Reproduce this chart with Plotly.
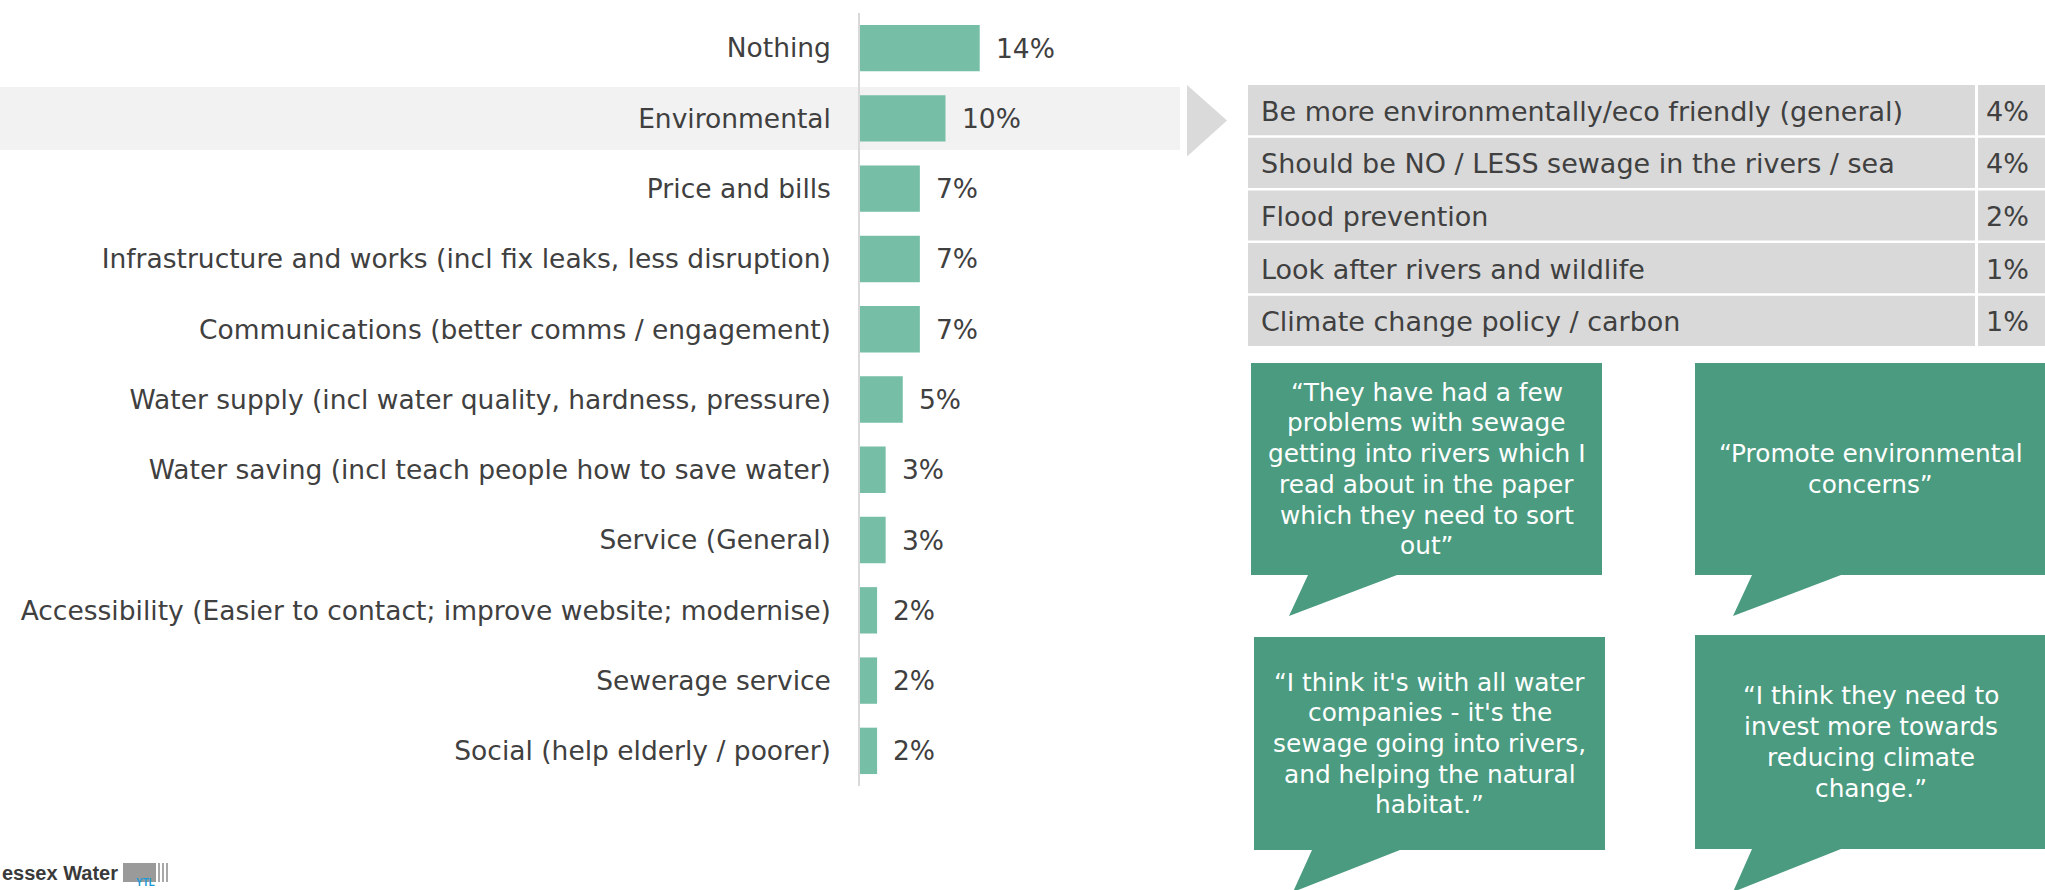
import plotly.graph_objects as go

W, H = 2045, 890
FONT = "DejaVu Sans"
TEXT_COL = "#404040"
BAR_COL = "#76BEA6"
CALLOUT_COL = "#4B9B80"
TABLE_COL = "#D9D9D9"

# Main bar chart data
categories = [
    "Nothing",
    "Environmental",
    "Price and bills",
    "Infrastructure and works (incl fix leaks, less disruption)",
    "Communications (better comms / engagement)",
    "Water supply (incl water quality, hardness, pressure)",
    "Water saving (incl teach people how to save water)",
    "Service (General)",
    "Accessibility (Easier to contact; improve website; modernise)",
    "Sewerage service",
    "Social (help elderly / poorer)",
]
values = [14, 10, 7, 7, 7, 5, 3, 3, 2, 2, 2]
highlight = "Environmental"

# Breakdown of the highlighted category
env_items = [
    "Be more environmentally/eco friendly (general)",
    "Should be NO / LESS sewage in the rivers / sea",
    "Flood prevention",
    "Look after rivers and wildlife",
    "Climate change policy / carbon",
]
env_values = [4, 4, 2, 1, 1]

# Verbatim comments, one list of lines per speech bubble
quotes = [
    ["“They have had a few", "problems with sewage", "getting into rivers which I",
     "read about in the paper", "which they need to sort", "out”"],
    ["“Promote environmental", "concerns”"],
    ["“I think it's with all water", "companies - it's the", "sewage going into rivers,",
     "and helping the natural", "habitat.”"],
    ["“I think they need to", "invest more towards", "reducing climate", "change.”"],
]


def px(x):
    return x / W


def py(y):
    return 1 - y / H


fig = go.Figure()

fig.add_trace(go.Bar(
    x=values, y=categories, orientation="h",
    marker=dict(color=BAR_COL, line=dict(width=0)),
    width=0.66, hoverinfo="skip", showlegend=False,
))

PX_PER_PCT = 8.55
x_left, x_right = 860, 1180
y_top, y_bot = 13, 786

shapes = []
annotations = []

# Highlight band behind the selected row
hi = categories.index(highlight)
shapes.append(dict(type="rect", xref="paper", yref="y",
                   x0=0, x1=px(1180), y0=hi - 0.448, y1=hi + 0.448,
                   fillcolor="#F2F2F2", line=dict(width=0), layer="below"))

# Pointer triangle
shapes.append(dict(type="path", xref="paper", yref="paper",
                   path=f"M {px(1187)},{py(85)} L {px(1227)},{py(120.5)} L {px(1187)},{py(156.5)} Z",
                   fillcolor="#DADADA", line=dict(width=0)))

# Value labels next to bars
for c, v in zip(categories, values):
    annotations.append(dict(x=v, y=c, xref="x", yref="y", text=f"{v}%",
                            showarrow=False, xanchor="left", yanchor="middle",
                            xshift=14, font=dict(family=FONT, size=26.5, color=TEXT_COL)))

# Breakdown table
row_top0, row_pitch, row_h = 85, 52.7, 50.2
for i, (item, v) in enumerate(zip(env_items, env_values)):
    t = row_top0 + i * row_pitch
    shapes.append(dict(type="rect", xref="paper", yref="paper",
                       x0=px(1248), x1=px(1975), y0=py(t + row_h), y1=py(t),
                       fillcolor=TABLE_COL, line=dict(width=0)))
    shapes.append(dict(type="rect", xref="paper", yref="paper",
                       x0=px(1978), x1=px(2046), y0=py(t + row_h), y1=py(t),
                       fillcolor=TABLE_COL, line=dict(width=0)))
    annotations.append(dict(x=px(1259), y=py(t + row_h / 2 + 1), xref="paper", yref="paper",
                            text=item, showarrow=False, xanchor="left", yanchor="middle",
                            font=dict(family=FONT, size=27, color=TEXT_COL)))
    annotations.append(dict(x=px(2031), y=py(t + row_h / 2 + 1), xref="paper", yref="paper",
                            text=f"{v}%", showarrow=False, xanchor="right", yanchor="middle",
                            font=dict(family=FONT, size=27, color=TEXT_COL)))

# Speech bubbles: (left, right, top, bottom, tail base left, tail base right, tip x, tip y)
bubbles = [
    (1251, 1602, 363, 575, 1308, 1397, 1289, 616),
    (1695, 2046, 363, 575, 1752, 1841, 1733, 616),
    (1254, 1605, 637, 850, 1312, 1400, 1293, 892),
    (1695, 2046, 635, 849, 1752, 1841, 1733, 892),
]
line_pitch = 30.7
for (l, r, t, b, tl, tr, tx, ty), lines in zip(bubbles, quotes):
    path = (f"M {px(l)},{py(t)} L {px(r)},{py(t)} L {px(r)},{py(b)} "
            f"L {px(tr)},{py(b)} L {px(tx)},{py(ty)} L {px(tl)},{py(b)} "
            f"L {px(l)},{py(b)} Z")
    shapes.append(dict(type="path", xref="paper", yref="paper", path=path,
                       fillcolor=CALLOUT_COL, line=dict(width=0)))
    cx = (l + r) / 2
    cy = (t + b) / 2
    n = len(lines)
    for k, ln in enumerate(lines):
        yy = cy + (k - (n - 1) / 2) * line_pitch
        annotations.append(dict(x=px(cx), y=py(yy), xref="paper", yref="paper",
                                text=ln, showarrow=False, xanchor="center", yanchor="middle",
                                font=dict(family=FONT, size=24.8, color="white")))

# Company logo, bottom left
annotations.append(dict(x=0, y=py(873), xref="paper", yref="paper",
                        text="<b>essex Water</b>", showarrow=False,
                        xanchor="left", yanchor="middle",
                        font=dict(family="Liberation Sans", size=20, color="#3A3A3A")))
shapes.append(dict(type="rect", xref="paper", yref="paper",
                   x0=px(123), x1=px(156), y0=py(882), y1=py(863),
                   fillcolor="#9A9A9A", line=dict(width=0)))
for sx in (158, 162, 166):
    shapes.append(dict(type="rect", xref="paper", yref="paper",
                       x0=px(sx), x1=px(sx + 2), y0=py(882), y1=py(863),
                       fillcolor="#A8A8A8", line=dict(width=0)))
annotations.append(dict(x=px(145), y=py(890), xref="paper", yref="paper",
                        text="<b>YTL</b>", showarrow=False, xanchor="center", yanchor="bottom",
                        font=dict(family="Liberation Sans", size=10, color="#1E9BD7")))

fig.update_layout(
    width=W, height=H,
    margin=dict(l=0, r=0, t=0, b=0),
    paper_bgcolor="white", plot_bgcolor="rgba(0,0,0,0)",
    shapes=shapes, annotations=annotations,
    xaxis=dict(domain=[px(x_left), px(x_right)], range=[0, (x_right - x_left) / PX_PER_PCT],
               showgrid=False, zeroline=False, showticklabels=False, showline=False,
               fixedrange=True),
    yaxis=dict(domain=[py(y_bot), py(y_top)], type="category",
               categoryorder="array", categoryarray=categories,
               range=[len(categories) - 0.5, -0.5],
               showgrid=False, zeroline=False,
               showline=True, linecolor="#D9D9D9", linewidth=1.5,
               ticks="outside", ticklen=22, tickcolor="rgba(0,0,0,0)",
               tickfont=dict(family=FONT, size=26.5, color=TEXT_COL),
               fixedrange=True),
    bargap=0.34,
)

fig.write_html("out.html")
